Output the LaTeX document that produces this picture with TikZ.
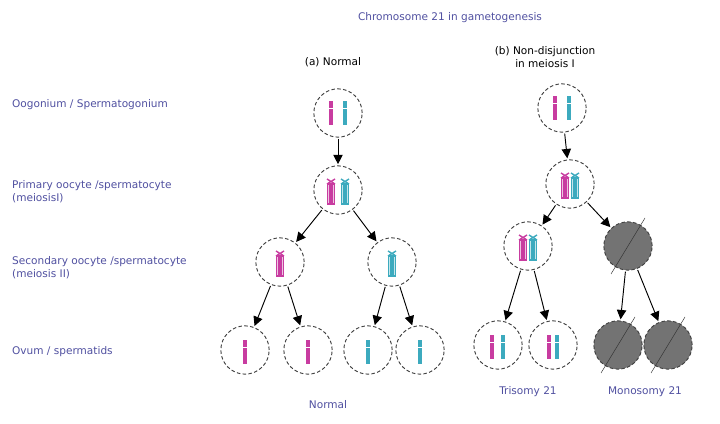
\documentclass[tikz,border=0pt]{standalone}
\usepackage{fontspec}
\setmainfont{DejaVu Sans}
\usetikzlibrary{positioning,calc,arrows.meta}
\definecolor{txtblue}{RGB}{80,80,160}
\definecolor{mag}{RGB}{200,60,160}
\definecolor{cyn}{RGB}{60,170,190}
\tikzset{
  cell/.style={circle,draw=black!75,densely dashed,thick,minimum size=14.5mm,inner sep=0pt},
  lost/.style={cell,fill=black!55},
  lbl/.style={text=txtblue,font=\small,anchor=west,align=left},
  arr/.style={-{Triangle[length=8pt,width=8pt]},thick,shorten >=1pt,shorten <=1pt}
}
% single chromatid at (x,y) in px
\newcommand{\chr}[3]{\fill[#3] ($(#1,#2)+(-2,-12)$) rectangle ++(4,24);
  \fill[white] ($(#1,#2)+(-2,-5)$) rectangle ++(4,1);}
% replicated pair of chromatids
\newcommand{\dchr}[3]{\draw[#3,very thick,fill=#3!30] ($(#1,#2)+(-3.5,-8)$) rectangle ++(2.5,20);
  \draw[#3,very thick,fill=#3!30] ($(#1,#2)+(1,-8)$) rectangle ++(2.5,20);
  \draw[#3,very thick] ($(#1,#2)+(-4,-13)$) -- ++(8,5) ($(#1,#2)+(4,-13)$) -- ++(-8,5);}
\newcommand{\crossout}[1]{\draw[black!80] ($(#1)+(-17,28)$) -- ($(#1)+(17,-28)$);}
\begin{document}
\begin{tikzpicture}[x=0.03cm,y=-0.03cm]
  \useasboundingbox (0,0) rectangle (720,424);
  % titles
  \node[text=txtblue,font=\small] (title) at (450,18) {Chromosome 21 in gametogenesis};
  \node[font=\small] (ha) at (333,62) {(a) Normal};
  \node[font=\small,align=center] (hb) at (545,57) {(b) Non-disjunction\\in meiosis I};
  % stage labels
  \node[lbl] (l1) at (8,105) {Oogonium / Spermatogonium};
  \node[lbl] (l2) at (8,192) {Primary oocyte /spermatocyte\\(meiosisI)};
  \node[lbl] (l3) at (8,268) {Secondary oocyte /spermatocyte\\(meiosis II)};
  \node[lbl] (l4) at (8,352) {Ovum / spermatids};

  % Normal
  \node[cell] (n1) at (338,113) {};
  \node[cell] (n2) at (338,190) {};
  \node[cell] (n3) at (280,262) {};
  \node[cell] (n4) at (392,262) {};
  \node[cell] (o1) at (245,350) {};
  \node[cell] (o2) at (308,350) {};
  \node[cell] (o3) at (368,350) {};
  \node[cell] (o4) at (420,350) {};
  \chr{331}{113}{mag} \chr{345}{113}{cyn}
  \dchr{331}{192}{mag} \dchr{345}{192}{cyn}
  \dchr{280}{264}{mag} \dchr{392}{264}{cyn}
  \chr{245}{352}{mag} \chr{308}{352}{mag}
  \chr{368}{352}{cyn} \chr{420}{352}{cyn}
  \draw[arr] (n1) -- (n2);
  \draw[arr] (n2) -- (n3);
  \draw[arr] (n2) -- (n4);
  \draw[arr] (n3) -- (o1);
  \draw[arr] (n3) -- (o2);
  \draw[arr] (n4) -- (o3);
  \draw[arr] (n4) -- (o4);
  \node[text=txtblue,font=\small] (cap1) at (328,405) {Normal};

  % Non-disjunction
  \node[cell] (m1) at (562,108) {};
  \node[cell] (m2) at (570,184) {};
  \node[cell] (m3) at (528,246) {};
  \node[lost] (m4) at (628,246) {};
  \node[cell] (t1) at (498,345) {};
  \node[cell] (t2) at (553,345) {};
  \node[lost] (z1) at (618,345) {};
  \node[lost] (z2) at (668,345) {};
  \chr{555}{108}{mag} \chr{569}{108}{cyn}
  \dchr{565}{186}{mag} \dchr{575}{186}{cyn}
  \dchr{523}{248}{mag} \dchr{533}{248}{cyn}
  \chr{492}{347}{mag} \chr{503}{347}{cyn}
  \chr{549}{347}{mag} \chr{557}{347}{cyn}
  \crossout{628,246} \crossout{618,345} \crossout{668,345}
  \draw[arr] (m1) -- (m2);
  \draw[arr] (m2) -- (m3);
  \draw[arr] (m2) -- (m4);
  \draw[arr] (m3) -- (t1);
  \draw[arr] (m3) -- (t2);
  \draw[arr] (m4) -- (z1);
  \draw[arr] (m4) -- (z2);
  \node[text=txtblue,font=\small] (cap2) at (528,392) {Trisomy 21};
  \node[text=txtblue,font=\small] (cap3) at (645,392) {Monosomy 21};
\end{tikzpicture}
\end{document}
